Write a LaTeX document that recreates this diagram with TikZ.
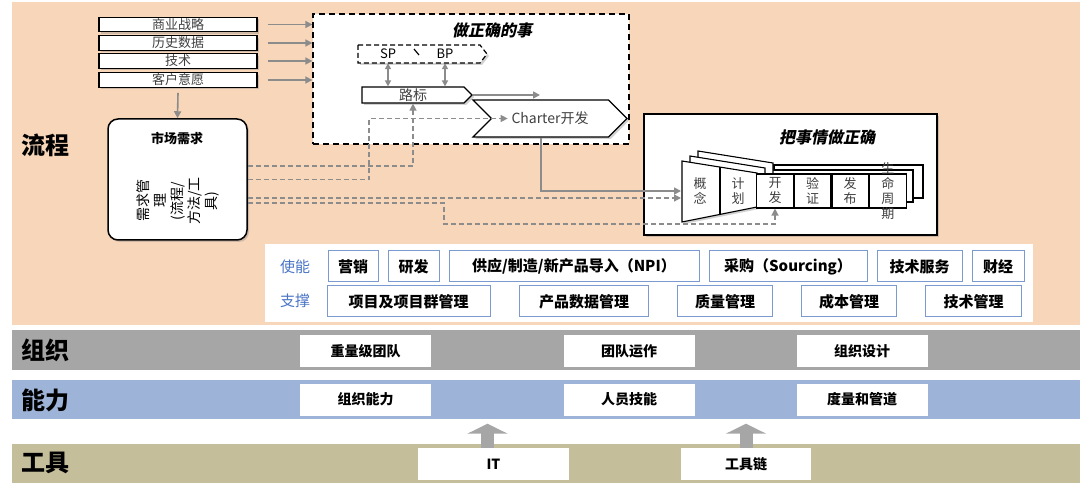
\documentclass[tikz,border=0pt]{standalone}
\usepackage{fontspec}
\setmainfont{Noto Sans CJK SC}
\newfontfamily\slantfont{Noto Sans CJK SC}[FakeSlant=0.2]
\usepackage{tikz}
\usetikzlibrary{arrows.meta,positioning,shapes.symbols,shadows}
\usetikzlibrary{calc}

\definecolor{peach}{HTML}{F8D6B9}
\definecolor{orggray}{HTML}{A6A6A6}
\definecolor{capblue}{HTML}{9DB3D7}
\definecolor{tooltan}{HTML}{C4BE9B}
\definecolor{enblue}{HTML}{7B9BD0}
\definecolor{entext}{HTML}{4A74C6}
\definecolor{lgray}{HTML}{8C8C8C}
\definecolor{txtgray}{HTML}{404040}

\tikzset{
	shade box/.style={drop shadow={opacity=0.35,shadow xshift=2pt,shadow yshift=-2pt}},
	inbox/.style={draw, line width=1.1pt, fill=white, shade box, minimum width=158pt, minimum height=14.5pt, inner sep=0pt, font=\fontsize{13}{13}\selectfont, text=txtgray},
	garrow/.style={draw=lgray, line width=1.6pt, -{Triangle[length=7pt,width=7pt]}},
	gdash/.style={draw=lgray, line width=1.3pt, dash pattern=on 5pt off 3pt, -{Triangle[length=7pt,width=7pt]}},
	celltext/.style={inner sep=0pt, align=center, font=\fontsize{13}{15}\selectfont, text=txtgray},
	cell/.style={celltext, draw=black, line width=1.1pt, fill=white, minimum width=36.5pt, minimum height=34pt},
	enbox/.style={draw=enblue, line width=1pt, fill=white, minimum height=31pt, inner sep=0pt, font=\bfseries\fontsize{15}{16}\selectfont},
	enlabel/.style={text=entext, font=\fontsize{15}{16}\selectfont},
	wbox/.style={fill=white, minimum width=131pt, minimum height=32pt, inner sep=0pt, font=\bfseries\fontsize{14}{15}\selectfont},
	bandlabel/.style={anchor=west, inner sep=0pt, font=\bfseries\fontsize{24}{26}\selectfont},
	uparrow/.style={draw=orggray, line width=13pt, -{Triangle[length=10pt,width=40pt]}},
}

\begin{document}
\begin{tikzpicture}[x=1pt,y=-1pt]
\useasboundingbox (0,0) rectangle (1080,497);
% bands
\fill[peach] (12,2) rectangle (1080,325);
\fill[white] (265,244) rectangle (1033,322);
\fill[orggray] (12,330) rectangle (1080,370);
\fill[capblue] (12,380) rectangle (1080,419);
\fill[tooltan] (12,444) rectangle (1080,483);
\node[bandlabel] (lproc) at (21,145) {流程};
\node[bandlabel] (lorg) at (21,350) {组织};
\node[bandlabel] (lcap) at (21,400) {能力};
\node[bandlabel] (ltool) at (21,463) {工具};

% inputs
\node[inbox] (strat) at (178,24.5) {商业战略};
\node[inbox] (hist) at (178,43) {历史数据};
\node[inbox] (tech) at (178,61) {技术};
\node[inbox] (cust) at (178,80) {客户意愿};

\node[draw, line width=1.5pt, rounded corners=10pt, fill=white, shade box, minimum width=139pt, minimum height=121pt] (mkt) at (177.5,179.5) {};
\node[font=\bfseries\fontsize{13}{14}\selectfont] (mkttitle) at (177,138) {市场需求};
\node[rotate=90, align=center, font=\fontsize{14}{17}\selectfont] (mkttext) at (178,201) {需求管\\理\\(流程/\\方法/工\\具)};

% do the right thing
\node[draw, line width=1.3pt, dash pattern=on 6pt off 4pt, fill=white, minimum width=316pt, minimum height=130pt] (rightbox) at (471,79) {};
\node[font=\slantfont\bfseries\fontsize{16}{17}\selectfont] (righttitle) at (492,30) {做正确的事};
\draw[line width=1.2pt, dash pattern=on 5pt off 3pt, fill=white, shade box] (358,45) -- (480,45) -- (487,54) -- (480,63) -- (358,63) -- cycle;
\draw[line width=1.2pt] (414,49) -- (419,55);
\node[minimum height=18pt, inner sep=0pt, font=\fontsize{13}{14}\selectfont] (sp) at (388,54) {SP};
\node[minimum height=18pt, inner sep=0pt, font=\fontsize{13}{14}\selectfont] (bp) at (445,54) {BP};
\node[signal, signal to=east, draw, line width=1.2pt, fill=white, shade box, minimum width=110pt, minimum height=16pt, inner sep=0pt, font=\fontsize{14}{15}\selectfont, text=txtgray] (lb) at (413,95) {路标};
\node[signal, signal from=west, signal to=east, draw, line width=1.2pt, fill=white, shade box, minimum width=154pt, minimum height=37pt, font=\fontsize{14}{15}\selectfont, text=txtgray] (charter) at (550,118.5) {Charter开发};

% do things right
\node[draw, line width=1.3pt, fill=white, shade box, minimum width=293pt, minimum height=121pt] (waybox) at (790.5,174.5) {};
\node[font=\slantfont\bfseries\fontsize{16}{17}\selectfont] (waytitle) at (827,137) {把事情做正确};
\draw[line width=1.1pt, fill=white] (774,165) rectangle (923,198);
\draw[line width=1.1pt, fill=white] (765,170) rectangle (913,202);
\foreach \dx/\dy in {16/10, 8/5}
	\draw[line width=1.1pt, fill=white] (682+\dx,161-\dy) -- (757+\dx,173-\dy) -- (757+\dx,207-\dy) -- (682+\dx,222-\dy) -- cycle;
\draw[line width=1.1pt, fill=white, shade box] (682,161) -- (757,173) -- (757,207) -- (682,222) -- cycle;
\draw[line width=1.1pt] (720,167) -- (720,214);
\node[celltext] (concept) at (700,191) {概\\念};
\node[celltext] (plan) at (738,191) {计\\划};
\node[cell] (dev) at (775,191) {开\\发};
\node[cell, right=0pt of dev] (ver) {验\\证};
\node[cell, right=0pt of ver] (rel) {发\\布};
\node[cell, right=0pt of rel] (life) {};
\node[celltext] (lifetxt) at (life) {生\\命\\周\\期};

% connectors
\foreach \src in {strat,hist,tech,cust}
	\draw[garrow] ([xshift=10pt]\src.east) -- (\src.east -| rightbox.west);
\draw[garrow] ([yshift=-5pt]cust.south) -- (mkt.north);
\draw[garrow, {Triangle[length=6pt,width=6pt]}-{Triangle[length=6pt,width=6pt]}] (sp.south) -- (sp.south |- lb.north);
\draw[garrow, {Triangle[length=6pt,width=6pt]}-{Triangle[length=6pt,width=6pt]}] (bp.south) -- (bp.south |- lb.north);
\draw[garrow] (lb.east) -- ([xshift=-10pt]charter.north |- lb.east);
\coordinate (bturn) at (369,118.5);
\coordinate (fin1) at (681,191);
\coordinate (fin2) at (681,198);
\coordinate (dturn) at (444,224);
\draw[gdash] ([yshift=13.5pt]mkt.east) -| (lb.south);
\draw[gdash] (mkt.east) -| (bturn) -- ([xshift=17pt]charter.west);
\draw[garrow] ([xshift=-9pt]charter.south) |- (fin1);
\draw[gdash] ([yshift=-18.5pt]mkt.east) -- (fin2);
\draw[gdash] ([yshift=-23.5pt]mkt.east) -| (dturn) -| (dev.south);

% enable / support
\node[enlabel] (enable) at (295,267) {使能};
\node[enbox, minimum width=50pt] (mkting) at (353,266.5) {营销};
\node[enbox, minimum width=51pt, right=9pt of mkting] (rnd) {研发};
\node[enbox, minimum width=250pt, right=9pt of rnd] (npi) {供应/制造/新产品导入（NPI）};
\node[enbox, minimum width=158pt, right=9pt of npi] (sourcing) {采购（Sourcing）};
\node[enbox, minimum width=85pt, right=9pt of sourcing] (tsvc) {技术服务};
\node[enbox, minimum width=52pt, right=9pt of tsvc] (finance) {财经};
\node[enlabel] (support) at (295,301) {支撑};
\node[enbox, minimum width=163pt] (pm) at (408.5,301.5) {项目及项目群管理};
\node[enbox, minimum width=129pt, right=28.5pt of pm] (pdm) {产品数据管理};
\node[enbox, minimum width=95pt, right=28pt of pdm] (qm) {质量管理};
\node[enbox, minimum width=95pt, right=28pt of qm] (cm) {成本管理};
\node[enbox, minimum width=96pt, right=28pt of cm] (tm) {技术管理};

% organisation, capability, tools
\node[wbox] (heavy) at (365.5,351) {重量级团队};
\node[wbox] (teamop) at (629,351) {团队运作};
\node[wbox] (orgdes) at (862,351) {组织设计};
\node[wbox] (orgcap) at (365.5,399.5) {组织能力};
\node[wbox] (skill) at (629,399.5) {人员技能};
\node[wbox] (metric) at (862,399.5) {度量和管道};
\node[wbox, minimum width=151pt] (it) at (493.5,464) {IT};
\node[wbox, minimum width=130pt] (chain) at (746,464) {工具链};
\draw[uparrow, shorten >=8pt] ([xshift=-6pt]it.north) -- ([xshift=-6pt]it.north |- orgcap.south);
\draw[uparrow, shorten >=8pt] (chain.north) -- (chain.north |- skill.south);
\end{tikzpicture}
\end{document}
